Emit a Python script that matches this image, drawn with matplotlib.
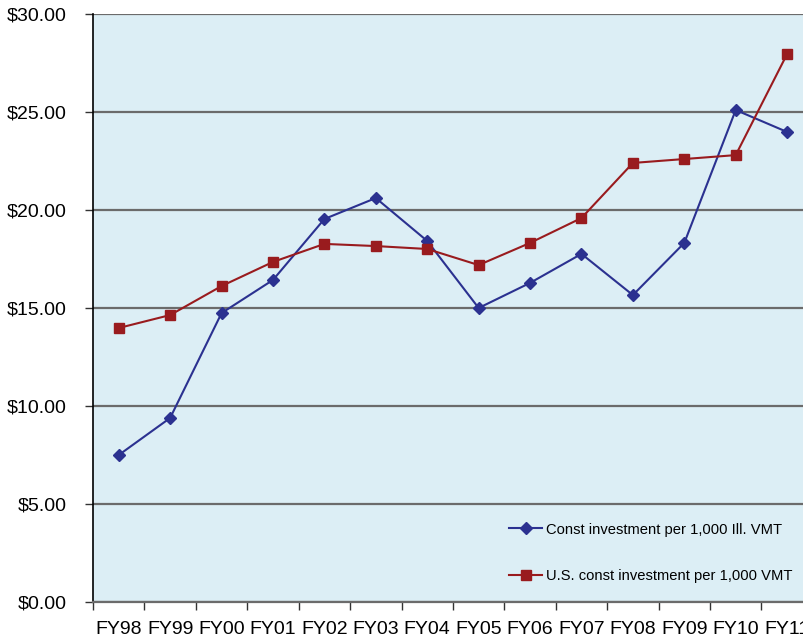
# construction investment per 1,000 VMT, Illinois vs U.S.
import matplotlib.pyplot as plt
import numpy as np
from matplotlib.ticker import FuncFormatter

years = ['FY98', 'FY99', 'FY00', 'FY01', 'FY02', 'FY03', 'FY04',
         'FY05', 'FY06', 'FY07', 'FY08', 'FY09', 'FY10', 'FY11']
ill_invest = [7.50, 9.39, 14.74, 16.43, 19.54, 20.61, 18.42,
              15.00, 16.28, 17.76, 15.66, 18.32, 25.10, 23.98]
us_invest = [13.98, 14.64, 16.12, 17.35, 18.27, 18.16, 18.01,
             17.19, 18.32, 19.59, 22.40, 22.60, 22.80, 27.96]

plt.rcParams['font.family'] = ['Liberation Sans', 'DejaVu Sans']

fig = plt.figure(figsize=(8.04, 6.41), dpi=100)
# plot area runs past the right edge of the figure
ax = fig.add_axes([0.1157, 0.0608, 0.8953, 0.9174])
ax.set_facecolor('#dceef5')

x = np.arange(len(years))
ax.plot(x, ill_invest, color='#2b3190', lw=1.5, marker='D', ms=6,
        label='Const investment per 1,000 Ill. VMT', zorder=3)
ax.plot(x, us_invest, color='#991b1e', lw=1.5, marker='s', ms=7,
        label='U.S. const investment per 1,000 VMT', zorder=3)

ax.set_xlim(-0.5, len(years) - 0.5)
ax.set_ylim(0, 30)
ax.set_yticks(np.arange(0, 31, 5))
ax.yaxis.set_major_formatter(FuncFormatter(lambda v, p: '${:.2f}'.format(v)))
ax.grid(axis='y', color='#6b6b6b', lw=1.6, zorder=1)
ax.set_axisbelow(True)

ax.set_xticks(x)
ax.set_xticklabels(years)
ax.set_xticks(np.arange(-0.5, len(years)), minor=True)
ax.tick_params(axis='x', which='major', length=0, pad=14, labelsize=14)
ax.tick_params(axis='x', which='minor', length=6, width=1, color='#333333')
ax.tick_params(axis='y', length=6, width=1, color='#333333', labelsize=14, pad=13)

for s in ['top', 'right']:
    ax.spines[s].set_visible(False)
ax.spines['left'].set_color('black')
ax.spines['left'].set_linewidth(1.2)
ax.spines['bottom'].set_color('#6b6b6b')
ax.spines['bottom'].set_linewidth(1.6)

ax.legend(loc='lower left', bbox_to_anchor=(0.56, 0.01), frameon=False,
          fontsize=10.6, labelspacing=2.2, handlelength=2.2, handletextpad=0.3)

plt.savefig('out.png', dpi=100)
